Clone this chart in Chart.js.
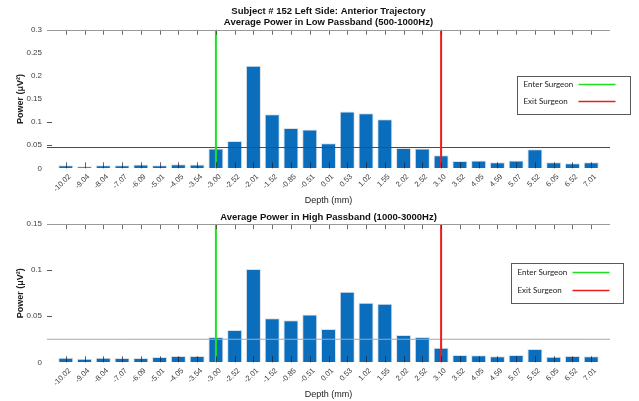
<!DOCTYPE html>
<html>
<head>
<meta charset="utf-8">
<script src="https://cdn.jsdelivr.net/npm/chart.js@4/dist/chart.umd.min.js"></script>
<style>
  html, body { margin: 0; padding: 0; background: #ffffff; }
  .box { position: absolute; left: 0; width: 639px; }
  #b1 { top: 0; height: 207px; }
  #b2 { top: 207px; height: 194px; }
</style>
</head>
<body>
<div class="box" id="b1"><canvas id="c1"></canvas></div>
<div class="box" id="b2"><canvas id="c2"></canvas></div>
<script>
// ---------------- data ----------------
const depthLabels = ['-10.02','-9.04','-8.04','-7.07','-6.09','-5.01','-4.05','-3.54','-3.00','-2.52',
  '-2.01','-1.52','-0.85','-0.51','0.01','0.53','1.02','1.55','2.02','2.52',
  '3.10','3.52','4.05','4.59','5.07','5.52','6.05','6.52','7.01'];

const lowPower = [0.0065,0.0045,0.0065,0.0065,0.008,0.0065,0.0085,0.008,0.043,0.059,
  0.222,0.117,0.087,0.084,0.054,0.123,0.119,0.106,0.044,0.043,
  0.028,0.016,0.017,0.013,0.017,0.041,0.013,0.011,0.013];

const highPower = [0.0050,0.0039,0.0050,0.0047,0.0047,0.0058,0.0068,0.0068,0.0275,0.035,
  0.1014,0.0478,0.0456,0.052,0.0362,0.0767,0.0648,0.0637,0.0297,0.0275,
  0.0159,0.0079,0.0076,0.0065,0.0079,0.0145,0.0061,0.0068,0.0065];

const enterDepth = '-3.00';
const exitDepth = '3.10';
const lowThreshold = 0.045;
const highThreshold = 0.025;
const lowYMax = 0.3;
const highYMax = 0.15;
const mainTitle = 'Subject # 152 Left Side: Anterior Trajectory';
const lowTitle = 'Average Power in Low Passband (500-1000Hz)';
const highTitle = 'Average Power in High Passband (1000-3000Hz)';
const legendNames = ['Enter Surgeon', 'Exit Surgeon'];

// ---------------- helpers ----------------
const FONT = "'Liberation Sans', Arial, sans-serif";
const xMax = depthLabels.length + 1;

const framePlugin = {
  id: 'frame',
  afterDatasetsDraw(chart, args, opts) {
    const { ctx, chartArea: a, scales: { x, y } } = chart;
    ctx.save();
    ctx.lineWidth = 1;
    for (let i = 1; i <= depthLabels.length; i++) {
      const px = Math.round(x.getPixelForValue(i)) + 0.5;
      ctx.strokeStyle = 'rgba(30,30,50,0.7)';
      ctx.beginPath(); ctx.moveTo(px, a.bottom); ctx.lineTo(px, a.bottom - 6); ctx.stroke();
      ctx.strokeStyle = 'rgba(60,60,60,0.75)';
      ctx.beginPath(); ctx.moveTo(px, a.top); ctx.lineTo(px, a.top + 5); ctx.stroke();
    }
    ctx.strokeStyle = '#9a9a9a';
    const ty = Math.round(a.top) + 0.5;
    ctx.beginPath(); ctx.moveTo(a.left, ty); ctx.lineTo(a.right, ty); ctx.stroke();
    ctx.strokeStyle = '#555';
    (opts.yMarks || []).forEach(v => {
      const py = Math.round(y.getPixelForValue(v)) + 0.5;
      ctx.beginPath(); ctx.moveTo(a.left, py); ctx.lineTo(a.left + 5, py); ctx.stroke();
    });
    ctx.restore();
  }
};

const boxLegendPlugin = {
  id: 'boxLegend',
  afterDraw(chart, args, opts) {
    const { ctx, chartArea: a } = chart;
    const bx = Math.round(a.right + opts.dx) + 0.5;
    const by = Math.round(a.top + opts.dy) + 0.5;
    ctx.save();
    ctx.fillStyle = '#ffffff';
    ctx.fillRect(bx, by, opts.w, opts.h);
    ctx.strokeStyle = '#5a5a5a';
    ctx.lineWidth = 1;
    ctx.strokeRect(bx, by, opts.w, opts.h);
    const items = chart.data.datasets.filter(d => d.legendEntry);
    ctx.font = "8px Lato, 'Open Sans', sans-serif";
    ctx.textBaseline = 'middle';
    ctx.textAlign = 'left';
    items.forEach((d, i) => {
      const yy = by + opts.firstY + i * opts.gap;
      ctx.fillStyle = '#1a1a1a';
      ctx.fillText(d.label, bx + 6, yy);
      ctx.strokeStyle = d.borderColor;
      ctx.lineWidth = 1.5;
      ctx.beginPath(); ctx.moveTo(bx + 61, yy); ctx.lineTo(bx + 98, yy); ctx.stroke();
    });
    ctx.restore();
  }
};

function makeChart(canvasId, values, yMax, threshold, thrColor, titleText, titlePadding, legendOpts, yMarks) {
  const enterX = depthLabels.indexOf(enterDepth) + 1;
  const exitX = depthLabels.indexOf(exitDepth) + 1;
  return new Chart(document.getElementById(canvasId), {
    type: 'bar',
    data: {
      datasets: [
        {
          type: 'line', label: legendNames[0], legendEntry: true, order: 0,
          data: [{ x: enterX, y: 0 }, { x: enterX, y: yMax }],
          borderColor: '#1fe01f', borderWidth: 2, pointRadius: 0
        },
        {
          type: 'line', label: legendNames[1], legendEntry: true, order: 0,
          data: [{ x: exitX, y: 0 }, { x: exitX, y: yMax }],
          borderColor: '#ee1c1c', borderWidth: 2, pointRadius: 0
        },
        {
          type: 'line', label: 'threshold', order: 1,
          data: [{ x: 0, y: threshold }, { x: xMax, y: threshold }],
          borderColor: thrColor, borderWidth: 1, pointRadius: 0
        },
        {
          type: 'bar', label: 'power', order: 2,
          data: values.map((v, i) => ({ x: i + 1, y: v })),
          backgroundColor: '#0a6ebd',
          borderColor: 'rgba(215,220,228,0.9)',
          borderWidth: 1,
          categoryPercentage: 1.0,
          barPercentage: 0.8
        }
      ]
    },
    options: {
      responsive: true,
      maintainAspectRatio: false,
      animation: false,
      events: [],
      layout: { padding: { left: 0, right: 29, top: 0, bottom: 0 } },
      plugins: {
        legend: { display: false },
        tooltip: { enabled: false },
        title: {
          display: true,
          text: titleText,
          fullSize: false,
          color: '#111',
          font: { family: FONT, size: 9.5, weight: 'bold', lineHeight: 1.25 },
          padding: titlePadding
        },
        frame: { yMarks: yMarks },
        boxLegend: legendOpts
      },
      scales: {
        x: {
          type: 'linear',
          offset: false,
          min: 0, max: xMax,
          grid: { display: false, drawTicks: false, offset: false },
          border: { display: false },
          afterFit: s => { s.height = 38.7; },
          ticks: {
            stepSize: 1,
            autoSkip: false,
            minRotation: 45, maxRotation: 45,
            padding: 4,
            labelOffset: 4,
            color: '#404040',
            font: { family: FONT, size: 7.5 },
            callback: v => (v >= 1 && v <= depthLabels.length) ? depthLabels[v - 1] : ''
          },
          title: {
            display: true, text: 'Depth (mm)', color: '#222',
            font: { family: FONT, size: 9 },
            padding: { top: 0, bottom: 1.5 }
          }
        },
        y: {
          min: 0, max: yMax,
          grid: { display: false, drawTicks: false },
          border: { display: false },
          afterFit: s => { s.width = 47; },
          ticks: {
            stepSize: 0.05,
            padding: 5,
            color: '#404040',
            font: { family: FONT, size: 8 },
            callback: v => String(Math.round(v * 100) / 100)
          },
          title: {
            display: true, text: 'Power (μV²)', color: '#222',
            font: { family: FONT, size: 9, weight: 'bold' },
            padding: { top: 15, bottom: 0 }
          }
        }
      }
    },
    plugins: [framePlugin, boxLegendPlugin]
  });
}

makeChart('c1', lowPower, lowYMax, lowThreshold, '#4a4a4a', [mainTitle, lowTitle],
  { top: 5, bottom: 1 },
  { dx: -93, dy: 46, w: 113, h: 38, firstY: 8, gap: 17 },
  [0.05, 0.1]);

makeChart('c2', highPower, highYMax, highThreshold, '#a8a8a8', highTitle,
  { top: 4, bottom: 1.3 },
  { dx: -99, dy: 39, w: 112, h: 40, firstY: 9, gap: 18 },
  [0.05, 0.1]);
</script>
</body>
</html>
